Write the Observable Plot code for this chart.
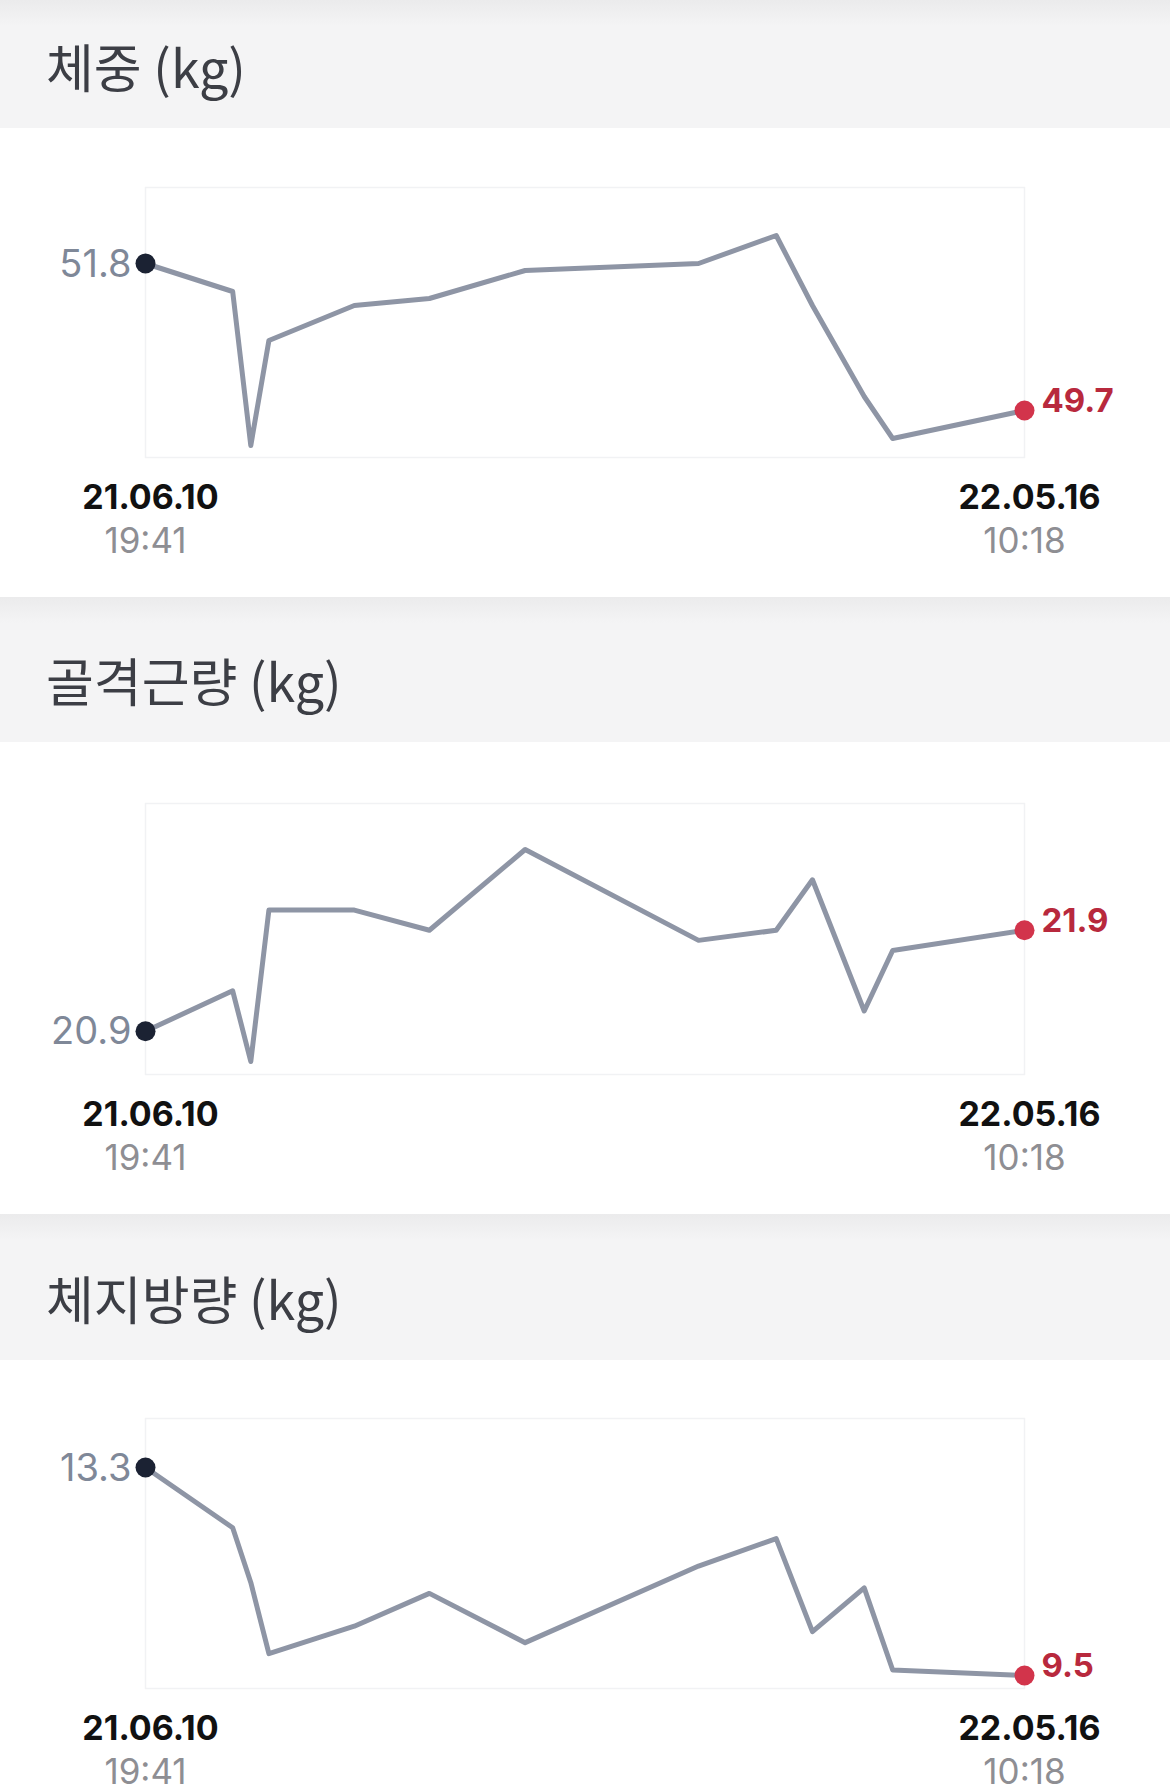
<!DOCTYPE html>
<html>
<head>
<meta charset="utf-8">
<script src="https://cdn.jsdelivr.net/npm/d3@7"></script>
<script src="https://cdn.jsdelivr.net/npm/@observablehq/plot@0.6"></script>
<style>
  html, body { margin: 0; padding: 0; background: #ffffff; }
  body { width: 1170px; overflow: hidden; }
  .header {
    position: relative;
    background: linear-gradient(#ebebec 0px, #f4f4f5 26px, #f4f4f5 100%);
  }
  .header .title {
    position: absolute;
    left: 46px;
    font-family: "Noto Sans CJK KR", "Noto Sans", sans-serif;
    font-size: 52px;
    line-height: 52px;
    color: #3c3e45;
    white-space: nowrap;
  }
  .chart { position: relative; background: #ffffff; }
  .chart svg { display: block; overflow: visible; }
</style>
</head>
<body>
<div id="root"></div>
<script>
// ---- data ----
const dates = [
  "2021-06-10T19:41", "2021-07-14T12:00", "2021-07-21T12:00", "2021-07-28T12:00",
  "2021-08-30T12:00", "2021-09-28T12:00", "2021-11-04T12:00", "2022-01-10T12:00",
  "2022-02-09T12:00", "2022-02-23T12:00", "2022-03-15T12:00", "2022-03-26T12:00",
  "2022-05-16T10:18"
];
const titles = ["체중 (kg)", "골격근량 (kg)", "체지방량 (kg)"];
const weight = [51.8, 51.4, 49.2, 50.7, 51.2, 51.3, 51.7, 51.8, 52.2, 51.2, 49.9, 49.3, 49.7];
const muscle = [20.9, 21.3, 20.6, 22.1, 22.1, 21.9, 22.7, 21.8, 21.9, 22.4, 21.1, 21.7, 21.9];
const fat    = [13.3, 12.2, 11.2, 9.9, 10.4, 11.0, 10.1, 11.5, 12.0, 10.3, 11.1, 9.6, 9.5];
const dateLabels = ["21.06.10", "22.05.16"];
const timeLabels = ["19:41", "10:18"];

// ---- layout per section ----
const sections = [
  {title: titles[0], values: weight, headerH: 128, titleTop: 40, height: 469, mt: 59, mb: 140, it: 48, ib: 12},
  {title: titles[1], values: muscle, headerH: 145, titleTop: 57, height: 472, mt: 61, mb: 140, it: 46, ib: 13},
  {title: titles[2], values: fat,    headerH: 146, titleTop: 58, height: 431, mt: 58, mb: 103, it: 49, ib: 13}
];

const root = document.getElementById("root");
const numFont = "Inter, Roboto, sans-serif";

for (const s of sections) {
  const header = document.createElement("div");
  header.className = "header";
  header.style.height = s.headerH + "px";
  const t = document.createElement("div");
  t.className = "title";
  t.style.top = s.titleTop + "px";
  t.textContent = s.title;
  header.appendChild(t);
  root.appendChild(header);

  const rows = dates.map((d, i) => ({date: new Date(d), value: s.values[i]}));
  const first = rows[0];
  const last = rows[rows.length - 1];
  const ends = [
    {date: first.date, dl: dateLabels[0], tl: timeLabels[0]},
    {date: last.date, dl: dateLabels[1], tl: timeLabels[1]}
  ];

  const svg = Plot.plot({
    width: 1170,
    height: s.height,
    marginLeft: 145,
    marginRight: 146,
    marginTop: s.mt,
    marginBottom: s.mb,
    style: {background: "transparent", overflow: "visible"},
    x: {axis: null},
    y: {axis: null, insetTop: s.it, insetBottom: s.ib},
    marks: [
      Plot.frame({stroke: "#f1f2f4", strokeWidth: 1.5}),
      Plot.line(rows, {x: "date", y: "value", stroke: "#8e95a5", strokeWidth: 5, strokeLinejoin: "round"}),
      Plot.dot([first], {x: "date", y: "value", r: 10, fill: "#1b2233"}),
      Plot.dot([last], {x: "date", y: "value", r: 10, fill: "#d2344b"}),
      Plot.text([first], {x: "date", y: "value", text: d => d.value.toFixed(1), textAnchor: "end", dx: -14, dy: 1,
        fill: "#7f8898", fontSize: 38, fontFamily: numFont}),
      Plot.text([last], {x: "date", y: "value", text: d => d.value.toFixed(1), textAnchor: "start", dx: 17, dy: -9,
        fill: "#b8293d", fontSize: 33, fontWeight: 700, fontFamily: numFont}),
      Plot.text(ends, {x: "date", text: "dl", frameAnchor: "bottom", lineAnchor: "bottom", dy: 51, dx: 5,
        fill: "#111111", fontSize: 34, fontWeight: 700, fontFamily: numFont}),
      Plot.text(ends, {x: "date", text: "tl", frameAnchor: "bottom", lineAnchor: "bottom", dy: 95,
        fill: "#8e8e93", fontSize: 35, fontWeight: 400, fontFamily: numFont})
    ]
  });
  const wrap = document.createElement("div");
  wrap.className = "chart";
  wrap.style.height = s.height + "px";
  wrap.appendChild(svg);
  root.appendChild(wrap);
}
</script>
</body>
</html>
